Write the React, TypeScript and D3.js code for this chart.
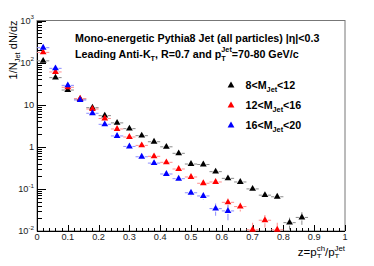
import React, { useEffect, useRef } from 'react';
import * as d3 from 'd3';

// bin centres (z), bin half-width 0.02
const zBins = [0.02, 0.06, 0.10, 0.14, 0.18, 0.22, 0.26, 0.30, 0.34, 0.38, 0.42, 0.46, 0.50, 0.54, 0.58, 0.62, 0.66, 0.70, 0.74, 0.78, 0.82, 0.86];

const mass8to12 = [110, 44, 22.3, 13.6, 8.5, 5.5, 3.7, 2.7, 1.84, 1.32, 1.0, 0.70, 0.39, 0.38, 0.257, 0.178, 0.146, 0.1, 0.071, 0.065, 0.0158, 0.021];
const mass8to12Err = [2, 1, 0.5, 0.3, 0.2, 0.15, 0.1, 0.08, 0.06, 0.05, 0.04, 0.03, 0.02, 0.02, 0.015, 0.012, 0.011, 0.01, 0.008, 0.008, 0.005, 0.007];

const mass12to16 = [175, 60, 25.9, 13.9, 7.9, 4.7, 2.65, 1.71, 1.08, 0.594, 0.428, 0.297, 0.192, 0.136, 0.146, 0.048, 0.038, 0.0107, 0.018, 0.0107];
const mass12to16Err = [3, 1.2, 0.6, 0.35, 0.25, 0.17, 0.12, 0.09, 0.07, 0.05, 0.04, 0.035, 0.025, 0.02, 0.02, 0.011, 0.009, 0.005, 0.006, 0.005];

const mass16to20 = [226, 73, 28.8, 12.9, 6.25, 3.42, 1.81, 1.02, 0.58, 0.41, 0.226, 0.175, 0.081, 0.068, 0.034, 0.030];
const mass16to20Err = [4, 1.5, 0.7, 0.35, 0.22, 0.15, 0.1, 0.07, 0.05, 0.04, 0.025, 0.022, 0.014, 0.012, 0.011, 0.012];

const xTicks = [0, 0.1, 0.2, 0.3, 0.4, 0.5, 0.6, 0.7, 0.8, 0.9, 1];
const yDecades = [-2, -1, 0, 1, 2, 3];

const series = [
  { label: '8<M', upper: '<12', values: mass8to12, errs: mass8to12Err, color: '#000000', light: '#8a8a8a' },
  { label: '12<M', upper: '<16', values: mass12to16, errs: mass12to16Err, color: '#ff0000', light: '#ff8c8c' },
  { label: '16<M', upper: '<20', values: mass16to20, errs: mass16to20Err, color: '#0000ff', light: '#8c8cff' },
];

type Seg = { t?: string; sub?: string; sup?: string };

const FONT = '"Liberation Sans", Arial, Helvetica, sans-serif';

// draws text with ROOT-like sub/superscripts, returns total width
function richText(
  parent: d3.Selection<any, unknown, null, undefined>,
  x: number,
  y: number,
  segs: Seg[],
  size: number,
  opts: { weight?: string; anchor?: 'start' | 'end'; fill?: string; rotate?: boolean; supShift?: number } = {}
) {
  const g = parent.append('g');
  const text = g
    .append('text')
    .attr('font-family', FONT)
    .attr('font-size', size)
    .attr('font-weight', opts.weight || 'normal')
    .attr('fill', opts.fill || '#000');
  let cx = 0;
  const small = size * 0.68;
  const supShift = opts.supShift ?? 0.48;
  segs.forEach((s) => {
    if (s.t) {
      const ts = text.append('tspan').attr('x', cx).attr('y', 0).text(s.t);
      cx += (ts.node() as SVGTSpanElement).getComputedTextLength();
    } else {
      let w = 0;
      if (s.sub) {
        const ts = text.append('tspan').attr('x', cx).attr('y', size * 0.3).attr('font-size', small).text(s.sub);
        w = Math.max(w, (ts.node() as SVGTSpanElement).getComputedTextLength());
      }
      if (s.sup) {
        const ts = text.append('tspan').attr('x', cx).attr('y', -size * supShift).attr('font-size', small).text(s.sup);
        w = Math.max(w, (ts.node() as SVGTSpanElement).getComputedTextLength());
      }
      cx += w;
    }
  });
  const dx = opts.anchor === 'end' ? -cx : 0;
  g.attr('transform', opts.rotate ? `translate(${x},${y}) rotate(-90) translate(${dx},0)` : `translate(${x + dx},${y})`);
  return cx;
}

const Chart: React.FC = () => {
  const svgRef = useRef<SVGSVGElement>(null);
  const width = 374;
  const height = 266;

  useEffect(() => {
    if (!svgRef.current) return;
    const svg = d3.select(svgRef.current);
    svg.selectAll('*').remove();

    const left = 37;
    const right = 345;
    const top = 20.5;
    const bottom = 231;

    const x = d3.scaleLinear().domain([0, 1]).range([left, right]);
    const y = d3.scaleLog().domain([0.01, 1000]).range([bottom, top]);

    svg.append('rect').attr('width', width).attr('height', height).attr('fill', '#fff');

    // frame
    svg
      .append('rect')
      .attr('x', left)
      .attr('y', top)
      .attr('width', right - left)
      .attr('height', bottom - top)
      .attr('fill', 'none')
      .attr('stroke', '#777')
      .attr('stroke-width', 1);

    const axes = svg.append('g').attr('stroke', '#000').attr('stroke-width', 1).attr('shape-rendering', 'crispEdges');
    axes.append('line').attr('x1', left).attr('x2', right).attr('y1', bottom).attr('y2', bottom);
    axes.append('line').attr('x1', left).attr('x2', left).attr('y1', top).attr('y2', bottom);

    // x ticks: major 0.1, minor 0.02
    d3.range(0, 51).forEach((i) => {
      const v = i / 50;
      const major = i % 5 === 0;
      axes
        .append('line')
        .attr('x1', Math.round(x(v)) + 0.5)
        .attr('x2', Math.round(x(v)) + 0.5)
        .attr('y1', bottom)
        .attr('y2', bottom - (major ? 6 : 3));
    });

    // y ticks: log decades with minors
    yDecades.forEach((d) => {
      const base = Math.pow(10, d);
      axes
        .append('line')
        .attr('x1', left)
        .attr('x2', left + 9)
        .attr('y1', Math.round(y(base)) + 0.5)
        .attr('y2', Math.round(y(base)) + 0.5);
      if (d < 3) {
        d3.range(2, 10).forEach((m) => {
          axes
            .append('line')
            .attr('x1', left)
            .attr('x2', left + 4.5)
            .attr('y1', Math.round(y(base * m)) + 0.5)
            .attr('y2', Math.round(y(base * m)) + 0.5);
        });
      }
    });

    // tick labels
    const labels = svg.append('g');
    xTicks.forEach((v) => {
      labels
        .append('text')
        .attr('x', x(v))
        .attr('y', 240)
        .attr('text-anchor', 'middle')
        .attr('font-family', FONT)
        .attr('font-size', 9.2)
        .attr('fill', '#222')
        .text(d3.format('~g')(v));
    });
    yDecades.forEach((d) => {
      const yy = y(Math.pow(10, d)) + 3.2;
      if (d === 0) {
        richText(labels, 34, yy, [{ t: '1' }], 9.2, { anchor: 'end', fill: '#222' });
      } else if (d === 1) {
        richText(labels, 34, yy, [{ t: '10' }], 9.2, { anchor: 'end', fill: '#222' });
      } else {
        richText(labels, 34, yy, [{ t: '10' }, { sup: String(d) }], 9.2, { anchor: 'end', fill: '#222' });
      }
    });

    // axis titles
    richText(svg, 345, 256, [{ t: 'z=p' }, { sub: 'T', sup: 'ch' }, { t: '/p' }, { sub: 'T', sup: 'Jet' }], 11.5, {
      anchor: 'end',
      supShift: 0.4,
    });
    richText(svg, 17, 20.5, [{ t: '1/N' }, { sub: 'Jet' }, { t: ' dN/dz' }], 11, { anchor: 'end', rotate: true });

    // data
    const tri = d3.symbol().type(d3.symbolTriangle).size(20);
    const halfW = 0.02;
    const gap = 3;
    series.forEach((s) => {
      const g = svg.append('g');
      s.values.forEach((v, i) => {
        const cx = x(zBins[i]);
        const cy = y(v);
        const bars = g.append('g').attr('stroke', s.light).attr('stroke-width', 1);
        bars.append('line').attr('x1', x(zBins[i] - halfW)).attr('x2', cx - gap).attr('y1', cy).attr('y2', cy);
        bars.append('line').attr('x1', cx + gap).attr('x2', x(zBins[i] + halfW)).attr('y1', cy).attr('y2', cy);
        const yUp = y(v + s.errs[i]);
        const yDn = Math.min(bottom, y(Math.max(v - s.errs[i], 0.005)));
        if (cy - yUp > gap) bars.append('line').attr('x1', cx).attr('x2', cx).attr('y1', yUp).attr('y2', cy - gap);
        if (yDn - cy > gap) bars.append('line').attr('x1', cx).attr('x2', cx).attr('y1', cy + gap).attr('y2', yDn);
        g.append('path').attr('d', tri).attr('transform', `translate(${cx},${cy})`).attr('fill', s.color);
      });
    });

    // text block
    richText(svg, 75, 41.5, [{ t: 'Mono-energetic Pythia8 Jet (all particles) |η|<0.3' }], 10.7, { weight: 'bold' });
    richText(
      svg,
      75,
      57.5,
      [{ t: 'Leading Anti-K' }, { sub: 'T' }, { t: ', R=0.7 and p' }, { sub: 'T', sup: 'Jet' }, { t: '=70-80 GeV/c' }],
      10.7,
      { weight: 'bold' }
    );

    // legend
    series.forEach((s, i) => {
      const ly = 89 + i * 20;
      svg.append('path').attr('d', tri).attr('transform', `translate(231,${ly - 3.5})`).attr('fill', s.color);
      richText(svg, 245.5, ly, [{ t: s.label }, { sub: 'Jet' }, { t: s.upper }], 10.7, { weight: 'bold' });
    });

    return () => {
      svg.selectAll('*').remove();
    };
  }, []);

  return <svg ref={svgRef} width={width} height={height} style={{ display: 'block' }} />;
};

export default function App() {
  return (
    <div style={{ margin: -8 }}>
      <Chart />
    </div>
  );
}
